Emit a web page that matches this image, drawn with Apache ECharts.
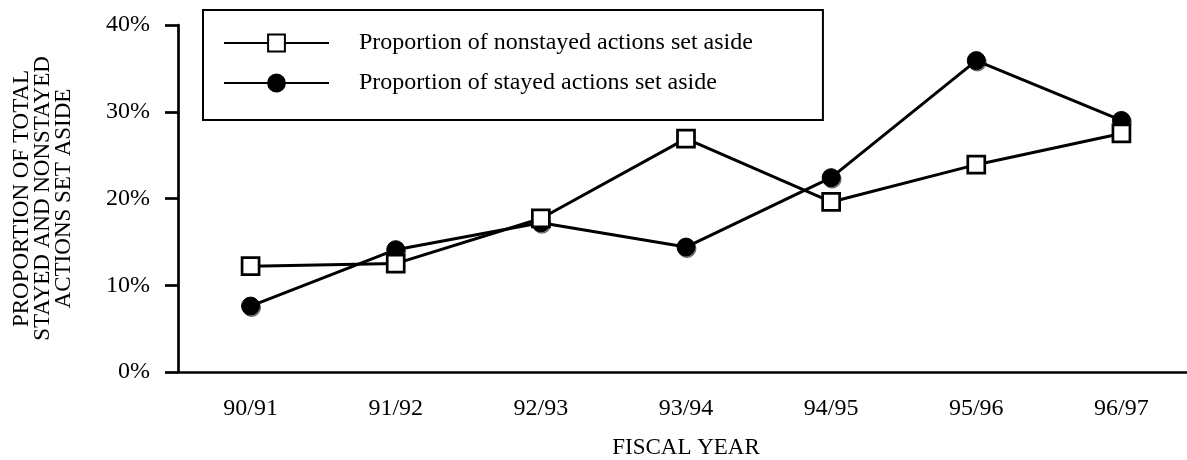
<!DOCTYPE html>
<html>
<head>
<meta charset="utf-8">
<script src="https://cdn.jsdelivr.net/npm/echarts@6/dist/echarts.min.js"></script>
<style>
  html, body { margin: 0; padding: 0; background: #fff; }
  #chart { width: 1187px; height: 460px; }
</style>
</head>
<body>
<div id="chart"></div>
<script>
// fiscal years on the x axis
const years = ["90/91", "91/92", "92/93", "93/94", "94/95", "95/96", "96/97"];
// percentages
const nonstayed = [12.2, 12.5, 17.7, 26.9, 19.6, 23.9, 27.5];
const stayed = [7.6, 14.1, 17.2, 14.4, 22.4, 35.9, 29.0];

const nonstayedName = "Proportion of nonstayed actions set aside";
const stayedName = "Proportion of stayed actions set aside";

const font = "'Liberation Serif', 'Times New Roman', serif";

const myChart = echarts.init(document.getElementById("chart"));

myChart.setOption({
    animation: false,
    backgroundColor: "#fff",
    textStyle: { fontFamily: font, color: "#000" },
    grid: { left: 178, right: -7, top: 25, bottom: 88, outerBoundsMode: "none", containLabel: false },
    legend: {
        orient: "vertical",
        left: 203,
        top: 10,
        data: [nonstayedName, stayedName],
        itemWidth: 105,
        itemHeight: 21,
        itemGap: 16,
        padding: [21, 70, 25, 20],
        borderColor: "#000",
        borderWidth: 2,
        inactiveColor: "#000",
        textStyle: { fontFamily: font, fontSize: 24, color: "#000", padding: [0, 0, 0, 25] }
    },
    xAxis: {
        type: "category",
        data: years,
        name: "FISCAL YEAR",
        nameLocation: "middle",
        nameGap: 64,
        nameTextStyle: { fontFamily: font, fontSize: 23, color: "#000" },
        axisLine: { lineStyle: { color: "#000", width: 2.7 } },
        axisTick: { alignWithLabel: true, length: 12, lineStyle: { color: "#000", width: 2.7 } },
        axisLabel: { fontFamily: font, fontSize: 24, color: "#000", margin: 25 }
    },
    yAxis: {
        type: "value",
        min: 0,
        max: 40,
        interval: 10,
        name: "PROPORTION OF TOTAL\nSTAYED AND NONSTAYED\nACTIONS SET ASIDE",
        nameLocation: "middle",
        nameGap: 104,
        nameTextStyle: { fontFamily: font, fontSize: 23, lineHeight: 21, color: "#000", align: "center" },
        axisLine: { show: true, lineStyle: { color: "#000", width: 2.7 } },
        axisTick: { show: true, length: 13, lineStyle: { color: "#000", width: 2.7 } },
        axisLabel: { fontFamily: font, fontSize: 24, color: "#000", margin: 28, formatter: "{value}%" },
        splitLine: { show: false }
    },
    series: [
        {
            name: stayedName,
            type: "line",
            data: stayed,
            symbol: "circle",
            symbolSize: 18,
            lineStyle: { color: "#000", width: 3 },
            itemStyle: { color: "#000", borderColor: "#000", borderWidth: 1, shadowColor: "rgba(0,0,0,0.45)", shadowOffsetX: 1, shadowOffsetY: 1.5 }
        },
        {
            name: nonstayedName,
            type: "line",
            data: nonstayed,
            symbol: "rect",
            symbolSize: 17,
            z: 3,
            lineStyle: { color: "#000", width: 3 },
            itemStyle: { color: "#fff", borderColor: "#000", borderWidth: 2.7 }
        }
    ]
});
</script>
</body>
</html>
